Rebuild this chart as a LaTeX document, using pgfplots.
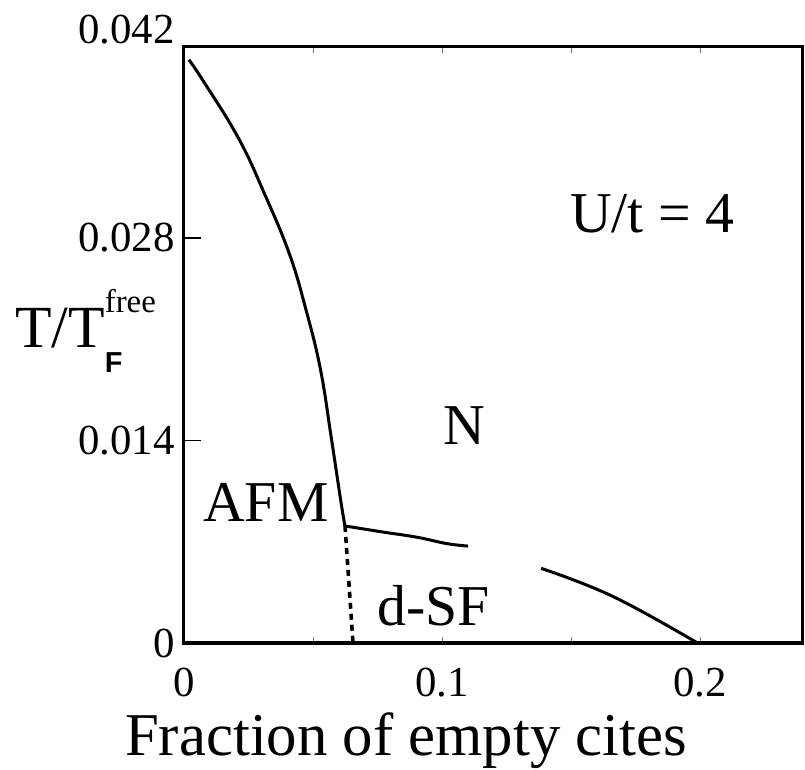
\documentclass[border=0pt]{standalone}
\usepackage{fontspec}
\setmainfont{Liberation Serif}
\newfontfamily\labelsans{Liberation Sans}
\usepackage{pgfplots}
\usepackage{pgfplotstable}
\pgfplotsset{compat=1.18}

% phase boundaries, T/T_F^free against the fraction of empty sites
\pgfplotstableread{
x y
0.0019 0.04032
0.0078 0.03876
0.0212 0.03487
0.0314 0.03097
0.0409 0.02687
0.0473 0.02302
0.0529 0.01890
0.0570 0.01428
0.0609 0.00967
0.0624 0.00809
}\afmline
\pgfplotstableread{
x y
0.0624 0.00809
0.0771 0.00767
0.0903 0.00731
0.1019 0.00687
0.1101 0.00670
}\scupper
\pgfplotstableread{
x y
0.1384 0.00516
0.1663 0.00321
0.1990 0.00000
}\sclower
\pgfplotstableread{
x y
0.0624 0.00809
0.0655 0.00000
}\afmsc

\begin{document}
\begin{tikzpicture}
\useasboundingbox (-184bp,-127bp) rectangle (621bp,643bp);
\begin{axis}[
  at={(0,0)}, anchor=south west, scale only axis,
  width=618bp, height=596bp,
  xmin=0, xmax=0.2395, ymin=0, ymax=0.0412,
  clip=false,
  scaled ticks=false,
  axis line style={line width=3bp},
  tick align=inside,
  ytick={0,0.014,0.028},
  yticklabels={0,0.014,0.028},
  ytick pos=left,
  major tick length=17bp,
  major y tick style={line width=1.5bp, black},
  xtick={0,0.1,0.2},
  xticklabels={0,0.1,0.2},
  major x tick style={draw=none},
  minor xtick={0.05,0.1,0.15,0.2},
  minor tick length=6bp,
  minor x tick style={line width=0.7bp, black!55},
  xtick pos=both,
  /pgf/number format/assume math mode=true,
  tick label style={font=\fontsize{43}{43}\selectfont},
  yticklabel style={anchor=east, inner sep=0pt, xshift=-9bp},
  xticklabel style={anchor=north, inner sep=0pt, yshift=-25bp},
]
\addplot[black, line width=3bp, smooth, tension=0.7] table {\afmline};
\addplot[black, line width=3bp, smooth, tension=0.7] table {\scupper};
\addplot[black, line width=3bp, smooth, tension=0.7] table {\sclower};
\addplot[black, line width=3.6bp, dash pattern=on 6bp off 5bp] table {\afmsc};
\end{axis}

% region names and parameter
\begin{scope}[every node/.style={inner sep=0pt, font=\fontsize{58}{58}\selectfont}]
\node[anchor=base west] at (386bp,410bp) {U/t = 4};
\node[anchor=base] at (280bp,198bp) {N};
\node[anchor=base west] at (19bp,121bp) {AFM};
\node[anchor=base west] at (193bp,18bp) {d-SF};
\end{scope}

% top tick value
\node[anchor=east, inner sep=0pt, font=\fontsize{43}{43}\selectfont] at (-9bp,613bp) {0.042};

% axis titles
\node[anchor=base west, inner sep=0pt, font=\fontsize{61}{61}\selectfont] at (-59bp,-112bp) {Fraction of empty cites};
\node[anchor=base west, inner sep=0pt, font=\fontsize{60}{60}\selectfont] at (-169bp,295bp)
  {T/T\rlap{\raisebox{35bp}{\fontsize{33}{33}\selectfont free}}\raisebox{-25bp}{\fontsize{29}{29}\selectfont\labelsans\bfseries F}};
\end{tikzpicture}
\end{document}
